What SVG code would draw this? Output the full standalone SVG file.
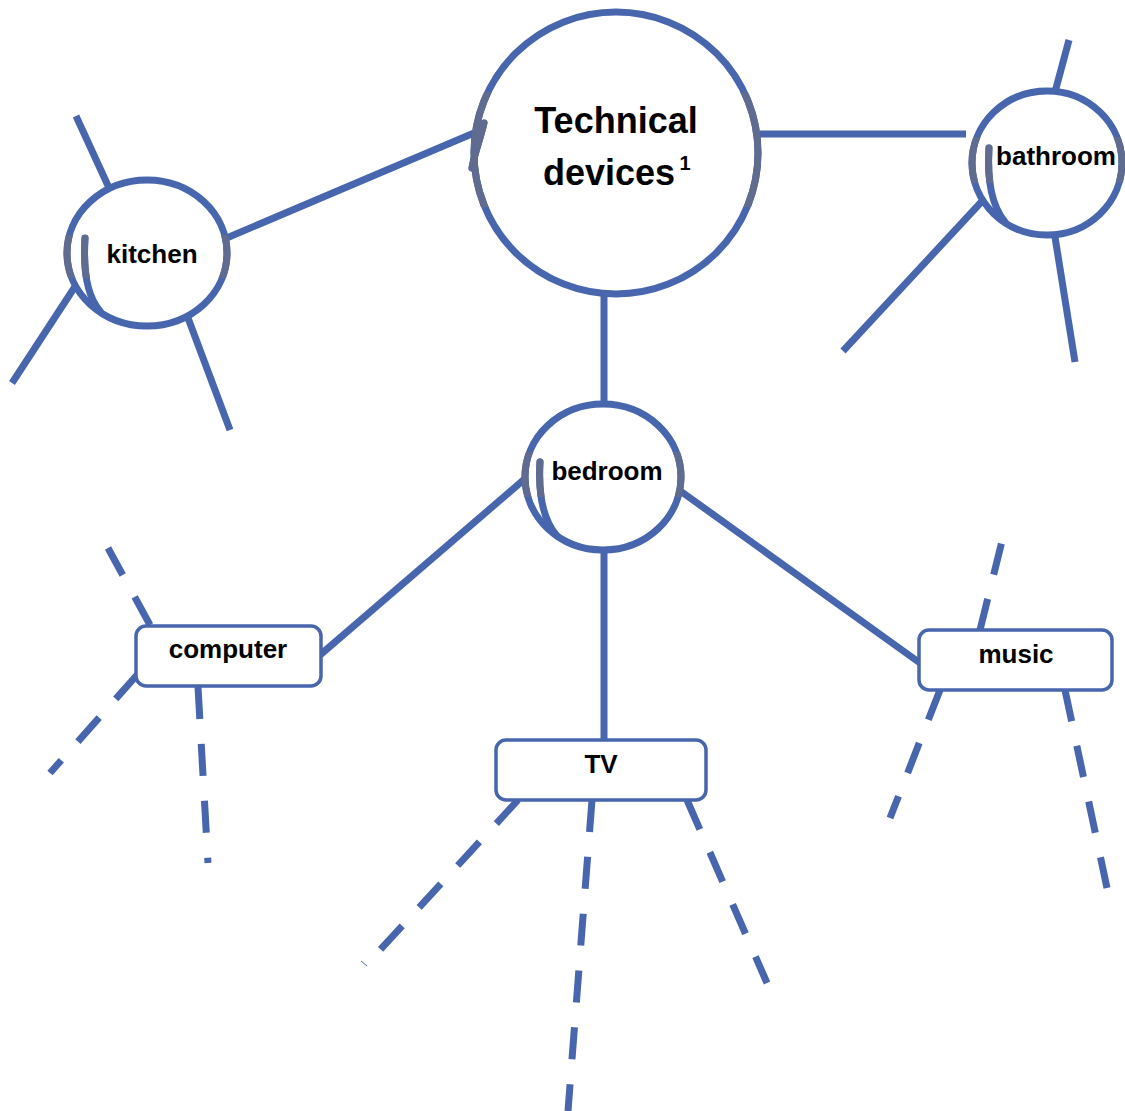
<svg xmlns="http://www.w3.org/2000/svg" width="1125" height="1111" viewBox="0 0 1125 1111">
<style>
.ln{stroke:#4766ae;stroke-width:7;fill:none}
.dl{stroke:#4766ae;stroke-width:7;fill:none;stroke-dasharray:32 25}
.cir{stroke:#4766ae;stroke-width:7;fill:#fff}
.band{stroke:#5f6b8f;stroke-width:7;fill:none}
.arc{stroke-linecap:round;stroke-width:7;fill:none}
.box{stroke:#4766ae;stroke-width:3.5;fill:#fff}
.t{font-family:"Liberation Sans",Arial,sans-serif;font-weight:bold;fill:#000;font-size:26px;text-anchor:middle}
</style>
<defs>
<clipPath id="cMain"><rect x="0" y="92" width="1125" height="115"/></clipPath>
<clipPath id="cKit"><rect x="0" y="235" width="400" height="43"/></clipPath>
<clipPath id="cBath"><rect x="800" y="137" width="325" height="46"/></clipPath>
<clipPath id="cBed"><rect x="400" y="452" width="400" height="45"/></clipPath>
</defs>
<g id="connectors">
<line class="ln" x1="222" y1="240" x2="474" y2="133"/>
<line class="ln" x1="760" y1="134" x2="966" y2="134"/>
<line class="ln" x1="604" y1="283" x2="604" y2="406"/>
<line class="ln" x1="604" y1="549" x2="604" y2="741"/>
<line class="ln" x1="320" y1="655" x2="527" y2="477"/>
<line class="ln" x1="920" y1="663" x2="679" y2="490"/>
<line class="ln" x1="76" y1="116" x2="110" y2="190"/>
<line class="ln" x1="78" y1="282" x2="12" y2="383"/>
<line class="ln" x1="188" y1="318" x2="230" y2="430"/>
<line class="ln" x1="1069" y1="40" x2="1055" y2="92"/>
<line class="ln" x1="985" y1="198" x2="843" y2="351"/>
<line class="ln" x1="1055" y1="237" x2="1075" y2="362"/>
<line class="dl" x1="150" y1="625" x2="108" y2="548"/>
<line class="dl" x1="137" y1="675" x2="50" y2="773"/>
<line class="dl" x1="198" y1="687" x2="208" y2="863"/>
<line class="dl" x1="518" y1="800" x2="380" y2="950"/>
<line x1="361" y1="961" x2="367" y2="966" stroke="#4766ae" stroke-width="1"/>
<line class="dl" x1="592" y1="800" x2="568" y2="1111"/>
<line class="dl" x1="687" y1="800" x2="767" y2="983"/>
<line class="dl" x1="980" y1="630" x2="1003" y2="537"/>
<line class="dl" x1="940" y1="690" x2="890" y2="818"/>
<line class="dl" x1="1065" y1="690" x2="1107" y2="888"/>
</g>
<g id="main">
<ellipse class="cir" cx="616" cy="153" rx="142" ry="141"/>
<path class="arc" stroke="#4766ae" d="M484,123 C480,140 474,155 472,168"/>
<g clip-path="url(#cMain)">
<ellipse class="band" cx="616" cy="153" rx="142" ry="141"/>
<path class="arc" stroke="#5f6b8f" d="M484,123 C480,140 474,155 472,168"/>
</g>
<text class="t" x="616" y="133" style="font-size:36px">Technical</text>
<text class="t" x="609" y="185" style="font-size:36px">devices</text>
<text class="t" x="685" y="170" style="font-size:20px">1</text>
</g>
<g id="kitchen">
<ellipse class="cir" cx="147" cy="253" rx="80" ry="73"/>
<path class="arc" stroke="#4766ae" d="M85,238 C83,270 87,296 100,311"/>
<g clip-path="url(#cKit)">
<ellipse class="band" cx="147" cy="253" rx="80" ry="73"/>
<path class="arc" stroke="#5f6b8f" d="M85,238 C83,270 87,296 100,311"/>
</g>
<text class="t" x="152" y="263">kitchen</text>
</g>
<g id="bathroom">
<ellipse class="cir" cx="1047" cy="163" rx="75" ry="72"/>
<path class="arc" stroke="#4766ae" d="M989,148 C987,180 992,206 1005,222"/>
<g clip-path="url(#cBath)">
<ellipse class="band" cx="1047" cy="163" rx="75" ry="72"/>
<path class="arc" stroke="#5f6b8f" d="M989,148 C987,180 992,206 1005,222"/>
</g>
<text class="t" x="1056" y="165">bathroom</text>
</g>
<g id="bedroom">
<ellipse class="cir" cx="603" cy="477" rx="78" ry="73"/>
<path class="arc" stroke="#4766ae" d="M540,462 C538,496 544,521 557,536"/>
<g clip-path="url(#cBed)">
<ellipse class="band" cx="603" cy="477" rx="78" ry="73"/>
<path class="arc" stroke="#5f6b8f" d="M540,462 C538,496 544,521 557,536"/>
</g>
<text class="t" x="607" y="480">bedroom</text>
</g>
<g id="computer">
<rect class="box" x="136" y="626" width="185" height="60" rx="10"/>
<text class="t" x="228" y="658">computer</text>
</g>
<g id="tv">
<rect class="box" x="496" y="740" width="210" height="60" rx="10"/>
<text class="t" x="601" y="773">TV</text>
</g>
<g id="music">
<rect class="box" x="919" y="630" width="193" height="60" rx="10"/>
<text class="t" x="1016" y="663">music</text>
</g>
</svg>
